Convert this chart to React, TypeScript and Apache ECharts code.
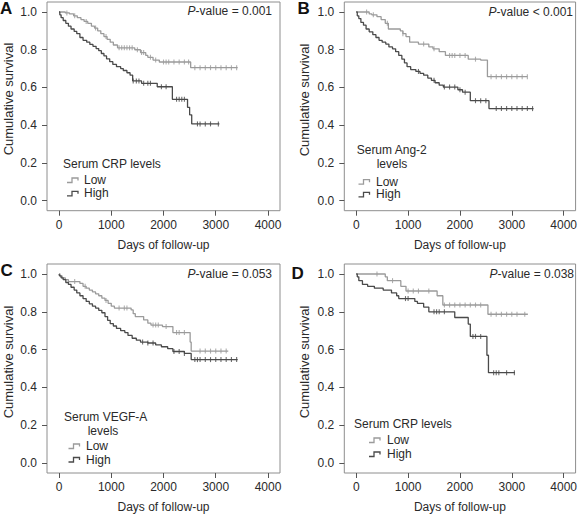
import React, { useEffect, useRef } from "react";
import * as echarts from "echarts";

// ---------- data ----------
const X_TICKS = [0, 1000, 2000, 3000, 4000];
const Y_TICKS = [0, 0.2, 0.4, 0.6, 0.8, 1.0];

// Panel A: Serum CRP levels
const A_LOW: [number, number][] = [
  [0, 1.0], [120, 0.995], [200, 0.99], [280, 0.98], [350, 0.97], [420, 0.96], [480, 0.95],
  [550, 0.94], [620, 0.925], [680, 0.915], [740, 0.9], [800, 0.885], [860, 0.87], [920, 0.855],
  [980, 0.84], [1040, 0.825], [1120, 0.81], [1450, 0.8], [1560, 0.785], [1660, 0.77],
  [1700, 0.76], [1800, 0.745], [1920, 0.735], [2520, 0.705], [3420, 0.705],
];
const A_HIGH: [number, number][] = [
  [0, 1.0], [15, 0.985], [40, 0.97], [80, 0.955], [130, 0.94], [180, 0.925], [230, 0.91],
  [290, 0.897], [340, 0.885], [400, 0.865], [460, 0.85], [530, 0.84], [590, 0.828], [650, 0.818],
  [710, 0.806], [760, 0.795], [810, 0.78], [860, 0.767], [910, 0.752], [970, 0.737], [1030, 0.722],
  [1100, 0.71], [1180, 0.7], [1230, 0.69], [1300, 0.678], [1360, 0.665], [1410, 0.635],
  [1580, 0.622], [1880, 0.604], [2170, 0.537], [2460, 0.495], [2500, 0.455], [2540, 0.407],
  [3070, 0.407],
];
const A_LOW_CENS = [150, 300, 520, 700, 900, 1150, 1200, 1250, 1300, 1350, 1400, 1500, 1580, 1620, 1750, 1850, 2000, 2050, 2100, 2200, 2300, 2400, 2480, 2600, 2700, 2800, 2900, 3000, 3100, 3200, 3300, 3400];
const A_HIGH_CENS = [1420, 1480, 1530, 1620, 1700, 1750, 1960, 2050, 2250, 2300, 2350, 2400, 2650, 2700, 2800, 2900, 3050];

// Panel B: Serum Ang-2 levels
const B_LOW: [number, number][] = [
  [0, 1.0], [250, 0.99], [300, 0.985], [400, 0.975], [480, 0.96], [560, 0.94], [620, 0.91],
  [850, 0.9], [900, 0.885], [960, 0.87], [1030, 0.84], [1200, 0.83], [1400, 0.815], [1480, 0.805],
  [1600, 0.79], [1720, 0.77], [2160, 0.75], [2400, 0.745], [2530, 0.657], [3300, 0.657],
];
const B_HIGH: [number, number][] = [
  [0, 1.0], [20, 0.98], [50, 0.965], [90, 0.945], [140, 0.93], [190, 0.91], [250, 0.895],
  [320, 0.88], [380, 0.865], [440, 0.85], [500, 0.84], [570, 0.83], [630, 0.815], [700, 0.805],
  [760, 0.79], [820, 0.77], [880, 0.75], [930, 0.73], [980, 0.71], [1050, 0.695], [1150, 0.685],
  [1230, 0.675], [1300, 0.665], [1380, 0.65], [1450, 0.638], [1520, 0.625], [1600, 0.612],
  [1680, 0.602], [1960, 0.588], [2050, 0.575], [2200, 0.53], [2560, 0.488], [3420, 0.488],
];
const B_LOW_CENS = [200, 330, 600, 900, 1300, 1500, 1800, 1850, 1900, 2000, 2100, 2300, 2600, 2700, 2800, 2900, 3000, 3100, 3200, 3300];
const B_HIGH_CENS = [1200, 1500, 1700, 1800, 1900, 2000, 2100, 2300, 2400, 2500, 2700, 2800, 2900, 3000, 3100, 3200, 3300, 3400];

// Panel C: Serum VEGF-A levels
const C_LOW: [number, number][] = [
  [0, 1.0], [20, 0.99], [60, 0.98], [120, 0.97], [180, 0.96], [400, 0.95], [460, 0.935],
  [520, 0.925], [580, 0.915], [640, 0.905], [700, 0.895], [760, 0.885], [820, 0.872], [880, 0.86],
  [940, 0.845], [1000, 0.83], [1060, 0.82], [1380, 0.81], [1420, 0.79], [1460, 0.775],
  [1620, 0.757], [1700, 0.74], [1760, 0.73], [1980, 0.722], [2180, 0.69], [2510, 0.64],
  [2530, 0.592], [3240, 0.592],
];
const C_HIGH: [number, number][] = [
  [0, 1.0], [10, 0.99], [40, 0.98], [80, 0.97], [130, 0.955], [180, 0.945], [230, 0.93],
  [290, 0.915], [340, 0.9], [400, 0.885], [460, 0.87], [520, 0.855], [580, 0.842], [640, 0.83],
  [700, 0.82], [760, 0.808], [820, 0.795], [880, 0.775], [930, 0.755], [980, 0.738], [1040, 0.725],
  [1100, 0.712], [1180, 0.7], [1260, 0.69], [1320, 0.675], [1400, 0.66], [1480, 0.65],
  [1560, 0.64], [1700, 0.635], [1850, 0.625], [1960, 0.615], [2080, 0.605], [2180, 0.59],
  [2400, 0.58], [2530, 0.547], [3420, 0.547],
];
const C_LOW_CENS = [300, 500, 900, 1150, 1250, 1300, 1800, 1850, 1900, 2050, 2250, 2300, 2400, 2700, 2800, 2900, 3000, 3100, 3200];
const C_HIGH_CENS = [1600, 1700, 1800, 2200, 2300, 2400, 2600, 2650, 2700, 2800, 2900, 3000, 3100, 3200, 3300, 3400];

// Panel D: Serum CRP levels
const D_LOW: [number, number][] = [
  [0, 1.0], [560, 0.985], [600, 0.965], [860, 0.935], [960, 0.91], [1560, 0.885],
  [1670, 0.836], [2540, 0.787], [3310, 0.787],
];
const D_HIGH: [number, number][] = [
  [0, 1.0], [20, 0.985], [50, 0.965], [120, 0.945], [220, 0.935], [350, 0.925], [520, 0.915],
  [680, 0.9], [780, 0.885], [820, 0.87], [1130, 0.855], [1180, 0.845], [1300, 0.825],
  [1400, 0.8], [1900, 0.77], [2160, 0.735], [2200, 0.67], [2520, 0.57], [2550, 0.478],
  [3060, 0.478],
];
const D_LOW_CENS = [400, 700, 1000, 1100, 1200, 1400, 1700, 1800, 1900, 2000, 2100, 2200, 2300, 2400, 2600, 2700, 2800, 2900, 3000, 3100, 3250];
const D_HIGH_CENS = [950, 1000, 1500, 1550, 1600, 1700, 2250, 2300, 2400, 2650, 2700, 2750, 2900, 3050];

const LEGEND_LABELS = ["Low", "High"];
const P_TEXTS = ["-value = 0.001", "-value < 0.001", "-value = 0.053", "-value = 0.038"];
const PANEL_LETTERS = ["A", "B", "C", "D"];
const LEGEND_TITLES = [["Serum CRP levels"], ["Serum Ang-2", "levels"], ["Serum VEGF-A", "levels"], ["Serum CRP levels"]];

const CURVES = [
  { low: A_LOW, high: A_HIGH, lowC: A_LOW_CENS, highC: A_HIGH_CENS },
  { low: B_LOW, high: B_HIGH, lowC: B_LOW_CENS, highC: B_HIGH_CENS },
  { low: C_LOW, high: C_HIGH, lowC: C_LOW_CENS, highC: C_HIGH_CENS },
  { low: D_LOW, high: D_HIGH, lowC: D_LOW_CENS, highC: D_HIGH_CENS },
];

// ---------- layout / style ----------
const FONT = "'Liberation Sans', Arial, Helvetica, sans-serif";
const LOW_COLOR = "#9b9b9b";
const HIGH_COLOR = "#4a4a4a";
const BOX_COLOR = "#8e8e8e";
const TEXT_COLOR = "#2a2a2a";

const GRIDS = [
  { left: 47, top: 2, width: 233, height: 208.7 },
  { left: 344.3, top: 2, width: 234.7, height: 208.7 },
  { left: 47, top: 264, width: 233, height: 209.7 },
  { left: 344.3, top: 264, width: 234.7, height: 209.7 },
];

const LAYOUT = [
  { letter: [0, 8.5], p: [272, 11], ytitle: [8.5, 99], legTitle: { x: 63, ys: [164.3], center: 0 }, icon: { x: 67, text: 84, ys: [180, 193.3] } },
  { letter: [297.5, 8.5], p: [573, 12], ytitle: [304, 100], legTitle: { x: 356.7, ys: [150, 164], center: 392 }, icon: { x: 358.5, text: 376, ys: [181.7, 194.3] } },
  { letter: [0.5, 270.5], p: [272, 274], ytitle: [8.5, 362], legTitle: { x: 64, ys: [417, 430.5], center: 103 }, icon: { x: 68.5, text: 86, ys: [446, 459.5] } },
  { letter: [291.5, 273.5], p: [574, 274], ytitle: [304, 362], legTitle: { x: 354, ys: [424], center: 0 }, icon: { x: 369, text: 387, ys: [440, 454] } },
];

function survAt(curve: [number, number][], t: number): number {
  let s = curve[0][1];
  for (const [tt, v] of curve) {
    if (tt <= t) s = v;
    else break;
  }
  return s;
}

function buildOption() {
  const grid: any[] = [];
  const xAxis: any[] = [];
  const yAxis: any[] = [];
  const series: any[] = [];
  const graphic: any[] = [];

  GRIDS.forEach((g, i) => {
    grid.push({ ...g, show: true, borderColor: BOX_COLOR, borderWidth: 1, backgroundColor: "transparent" });
    xAxis.push({
      type: "value",
      gridIndex: i,
      position: "bottom",
      min: -230,
      max: 4230,
      splitLine: { show: false },
      axisLine: { show: false, onZero: false },
      axisTick: { show: true, inside: false, length: 5, customValues: X_TICKS, lineStyle: { color: "#555", width: 1 } },
      axisLabel: {
        customValues: X_TICKS,
        margin: 8,
        color: TEXT_COLOR,
        fontSize: 12,
        fontFamily: FONT,
        formatter: (v: number) => String(Math.round(v)),
      },
      name: "Days of follow-up",
      nameLocation: "middle",
      nameGap: 28,
      nameTextStyle: { color: TEXT_COLOR, fontSize: 12, fontFamily: FONT },
    });
    yAxis.push({
      type: "value",
      gridIndex: i,
      position: "left",
      min: -0.053,
      max: 1.053,
      splitLine: { show: false },
      axisLine: { show: false, onZero: false },
      axisTick: { show: true, inside: false, length: 5, customValues: Y_TICKS, lineStyle: { color: "#555", width: 1 } },
      axisLabel: {
        customValues: Y_TICKS,
        margin: 10,
        color: TEXT_COLOR,
        fontSize: 12,
        fontFamily: FONT,
        formatter: (v: number) => v.toFixed(1),
      },
    });

    const c = CURVES[i];
    const pairs: [string, [number, number][], number[], string][] = [
      ["Low", c.low, c.lowC, LOW_COLOR],
      ["High", c.high, c.highC, HIGH_COLOR],
    ];
    pairs.forEach(([name, curve, cens, color]) => {
      series.push({
        type: "line",
        name: `${PANEL_LETTERS[i]} ${name}`,
        xAxisIndex: i,
        yAxisIndex: i,
        data: curve,
        step: "end",
        symbol: "none",
        showSymbol: false,
        silent: true,
        lineStyle: { color, width: 1.3 },
        z: name === "High" ? 3 : 2,
      });
      series.push({
        type: "scatter",
        name: `${PANEL_LETTERS[i]} ${name} censored`,
        xAxisIndex: i,
        yAxisIndex: i,
        data: cens.map((t) => [t, survAt(curve, t)]),
        symbol: "rect",
        symbolSize: [1.1, 5],
        silent: true,
        itemStyle: { color },
        z: name === "High" ? 3 : 2,
      });
    });

    const L = LAYOUT[i];
    graphic.push({
      type: "text",
      x: L.letter[0],
      y: L.letter[1],
      style: { text: PANEL_LETTERS[i], font: `bold 17px ${FONT}`, fill: "#111", verticalAlign: "middle", align: "left" },
    });
    graphic.push({
      type: "text",
      x: L.p[0],
      y: L.p[1],
      style: {
        text: `{i|P}{n|${P_TEXTS[i]}}`,
        rich: {
          i: { fontStyle: "italic", fontSize: 12, fontFamily: FONT, fill: TEXT_COLOR },
          n: { fontSize: 12, fontFamily: FONT, fill: TEXT_COLOR },
        },
        align: "right",
        verticalAlign: "middle",
      },
    });
    graphic.push({
      type: "text",
      x: L.ytitle[0],
      y: L.ytitle[1],
      rotation: Math.PI / 2,
      style: { text: "Cumulative survival", font: `13px ${FONT}`, fill: TEXT_COLOR, align: "center", verticalAlign: "middle" },
    });
    const titles = LEGEND_TITLES[i];
    titles.forEach((t, k) => {
      const isSecond = k > 0;
      graphic.push({
        type: "text",
        x: isSecond ? L.legTitle.center : L.legTitle.x,
        y: L.legTitle.ys[k],
        style: { text: t, font: `12px ${FONT}`, fill: TEXT_COLOR, align: isSecond ? "center" : "left", verticalAlign: "middle" },
      });
    });
    LEGEND_LABELS.forEach((lab, k) => {
      const y = L.icon.ys[k];
      const x0 = L.icon.x;
      const color = k === 0 ? LOW_COLOR : HIGH_COLOR;
      graphic.push({
        type: "polyline",
        shape: { points: [[x0, y + 2.5], [x0 + 5, y + 2.5], [x0 + 5, y - 2], [x0 + 11, y - 2], [x0 + 11, y + 0.5]] },
        style: { stroke: color, lineWidth: 1.3, fill: "none" },
      });
      graphic.push({
        type: "text",
        x: L.icon.text,
        y,
        style: { text: lab, font: `12px ${FONT}`, fill: TEXT_COLOR, align: "left", verticalAlign: "middle" },
      });
    });
  });

  return {
    animation: false,
    backgroundColor: "#ffffff",
    grid,
    xAxis,
    yAxis,
    series,
    graphic,
  };
}

export default function App() {
  const ref = useRef<HTMLDivElement>(null);
  useEffect(() => {
    if (!ref.current) return;
    const chart = echarts.init(ref.current, undefined, { renderer: "svg" });
    chart.setOption(buildOption() as any);
    return () => chart.dispose();
  }, []);
  return <div ref={ref} style={{ position: "absolute", left: 0, top: 0, width: 580, height: 514 }} />;
}
